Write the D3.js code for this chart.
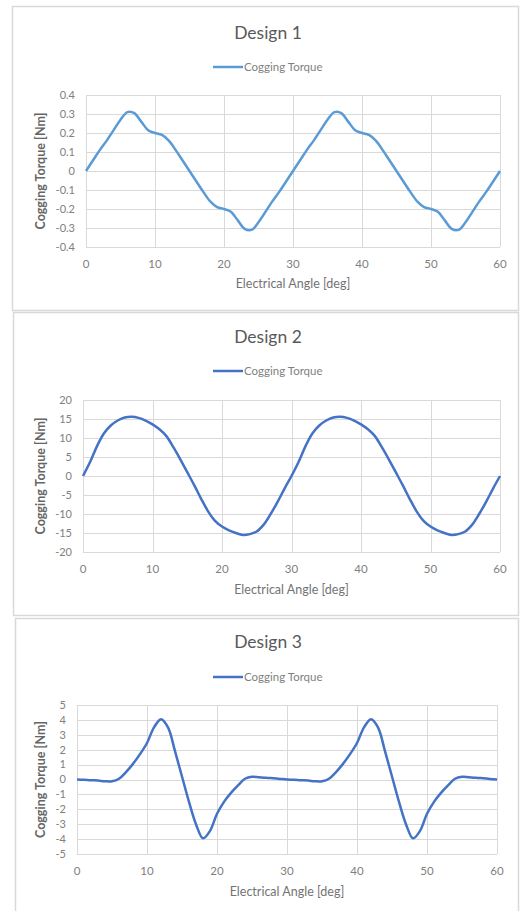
<!DOCTYPE html>
<html>
<head>
<meta charset="utf-8">
<script src="https://cdn.jsdelivr.net/npm/d3@7/dist/d3.min.js"></script>
<style>
  html, body { margin: 0; padding: 0; background: #fff; }
  svg { display: block; }
  text { font-family: Lato, "Open Sans", sans-serif; }
</style>
</head>
<body>
<svg id="chart" width="520" height="911"></svg>
<script>
// ---- Data ----
const angles = d3.range(0, 61); // 0..60 deg, 1 deg step (x values)

const design1 = [
  0, 0.055, 0.11, 0.16, 0.215, 0.27, 0.31, 0.305, 0.26, 0.215, 0.20,
  0.19, 0.16, 0.11, 0.055, 0, -0.055, -0.11, -0.16, -0.19, -0.20,
  -0.215, -0.26, -0.305, -0.31, -0.27, -0.215, -0.16, -0.11, -0.055, 0,
  0.055, 0.11, 0.16, 0.215, 0.27, 0.31, 0.305, 0.26, 0.215, 0.20,
  0.19, 0.16, 0.11, 0.055, 0, -0.055, -0.11, -0.16, -0.19, -0.20,
  -0.215, -0.26, -0.305, -0.31, -0.27, -0.215, -0.16, -0.11, -0.055, 0
];

const design2 = [
  0, 3.6, 7.8, 11.2, 13.3, 14.6, 15.4, 15.6, 15.3, 14.6, 13.6,
  12.3, 10.5, 7.6, 4.4, 1.0, -2.4, -6.0, -9.3, -11.8, -13.3,
  -14.3, -15.0, -15.5, -15.3, -14.6, -12.8, -10.0, -6.8, -3.3, 0,
  3.6, 7.8, 11.2, 13.3, 14.6, 15.4, 15.6, 15.3, 14.6, 13.6,
  12.3, 10.5, 7.6, 4.4, 1.0, -2.4, -6.0, -9.3, -11.8, -13.3,
  -14.3, -15.0, -15.5, -15.3, -14.6, -12.8, -10.0, -6.8, -3.3, 0
];

const design3 = [
  0, -0.02, -0.05, -0.07, -0.12, -0.12, 0.05, 0.5, 1.05, 1.7, 2.45,
  3.5, 4.05, 3.5, 1.9, 0.2, -1.5, -3.0, -3.95, -3.45, -2.3,
  -1.5, -0.9, -0.4, 0.05, 0.18, 0.15, 0.12, 0.08, 0.04, 0,
  -0.02, -0.05, -0.07, -0.12, -0.12, 0.05, 0.5, 1.05, 1.7, 2.45,
  3.5, 4.05, 3.5, 1.9, 0.2, -1.5, -3.0, -3.95, -3.45, -2.3,
  -1.5, -0.9, -0.4, 0.05, 0.18, 0.15, 0.12, 0.08, 0.04, 0
];

const titles = ["Design 1", "Design 2", "Design 3"];
const seriesName = "Cogging Torque";
const xTicks = [0, 10, 20, 30, 40, 50, 60];
const yTicks1 = [-0.4, -0.3, -0.2, -0.1, 0, 0.1, 0.2, 0.3, 0.4];
const yTicks2 = [-20, -15, -10, -5, 0, 5, 10, 15, 20];
const yTicks3 = [-5, -4, -3, -2, -1, 0, 1, 2, 3, 4, 5];
const xTitle = "Electrical Angle [deg]";
const yTitle = "Cogging Torque [Nm]";

// ---- Layout ----
const panels = [
  { data: design1, yTicks: yTicks1, color: "#5b9bd5",
    box: [12, 6, 518, 310], plot: [86, 95, 500, 247], titleY: 39, legendY: 67, xTickY: 268, xTitleY: 288, yTitleX: 45 },
  { data: design2, yTicks: yTicks2, color: "#4472c4",
    box: [13, 312, 518, 615], plot: [83, 400, 500, 552], titleY: 343, legendY: 371, xTickY: 573, xTitleY: 594, yTitleX: 45 },
  { data: design3, yTicks: yTicks3, color: "#4472c4",
    box: [15, 618, 518, 915], plot: [77, 705, 497, 854], titleY: 648, legendY: 677, xTickY: 875, xTitleY: 896, yTitleX: 45 }
];

const svg = d3.select("#chart");

panels.forEach((p, i) => {
  const g = svg.append("g");
  const [bx0, by0, bx1, by1] = p.box;
  g.append("rect")
    .attr("x", bx0 + 0.5).attr("y", by0 + 0.5)
    .attr("width", bx1 - bx0).attr("height", by1 - by0)
    .attr("fill", "#fff").attr("stroke", "#d9d9d9").attr("stroke-width", 1.5);

  const [px0, py0, px1, py1] = p.plot;
  const x = d3.scaleLinear().domain([0, 60]).range([px0, px1]);
  const y = d3.scaleLinear().domain(d3.extent(p.yTicks)).range([py1, py0]);

  // gridlines
  g.append("g").selectAll("line").data(p.yTicks).join("line")
    .attr("x1", px0).attr("x2", px1)
    .attr("y1", d => Math.round(y(d)) + 0.5).attr("y2", d => Math.round(y(d)) + 0.5)
    .attr("stroke", "#d9d9d9").attr("stroke-width", 1);
  g.append("g").selectAll("line").data(xTicks).join("line")
    .attr("y1", py0).attr("y2", py1)
    .attr("x1", d => Math.round(x(d)) + 0.5).attr("x2", d => Math.round(x(d)) + 0.5)
    .attr("stroke", "#d9d9d9").attr("stroke-width", 1);

  // y tick labels
  g.append("g").selectAll("text").data(p.yTicks).join("text")
    .attr("x", px0 - 11).attr("y", d => y(d))
    .attr("dy", "0.35em").attr("text-anchor", "end")
    .attr("font-size", 11).attr("fill", "#808080")
    .text(d => d);

  // x tick labels
  g.append("g").selectAll("text").data(xTicks).join("text")
    .attr("x", d => x(d)).attr("y", p.xTickY)
    .attr("text-anchor", "middle")
    .attr("font-size", 11.5).attr("fill", "#808080")
    .text(d => d);

  // axis titles
  g.append("text").attr("x", (px0 + px1) / 2).attr("y", p.xTitleY)
    .attr("text-anchor", "middle").attr("font-size", 12.5).attr("fill", "#737373")
    .text(xTitle);
  g.append("text")
    .attr("transform", `translate(${p.yTitleX},${(py0 + py1) / 2}) rotate(-90)`)
    .attr("text-anchor", "middle").attr("font-size", 12.5).attr("fill", "#666")
    .attr("font-weight", "bold")
    .text(yTitle);

  // title
  g.append("text").attr("x", 268).attr("y", p.titleY)
    .attr("text-anchor", "middle").attr("font-size", 17.5).attr("fill", "#595959")
    .text(titles[i]);

  // legend
  g.append("line").attr("x1", 213).attr("x2", 243)
    .attr("y1", p.legendY).attr("y2", p.legendY)
    .attr("stroke", p.color).attr("stroke-width", 2.5);
  g.append("text").attr("x", 244).attr("y", p.legendY).attr("dy", "0.35em")
    .attr("font-size", 11.5).attr("fill", "#7f7f7f")
    .text(seriesName);

  // series line
  const line = d3.line()
    .x((d, k) => x(angles[k]))
    .y(d => y(d))
    .curve(d3.curveCatmullRom.alpha(0.5));
  g.append("path").datum(p.data)
    .attr("d", line)
    .attr("fill", "none").attr("stroke", p.color)
    .attr("stroke-width", 2.5).attr("stroke-linejoin", "round");
});
</script>
</body>
</html>
